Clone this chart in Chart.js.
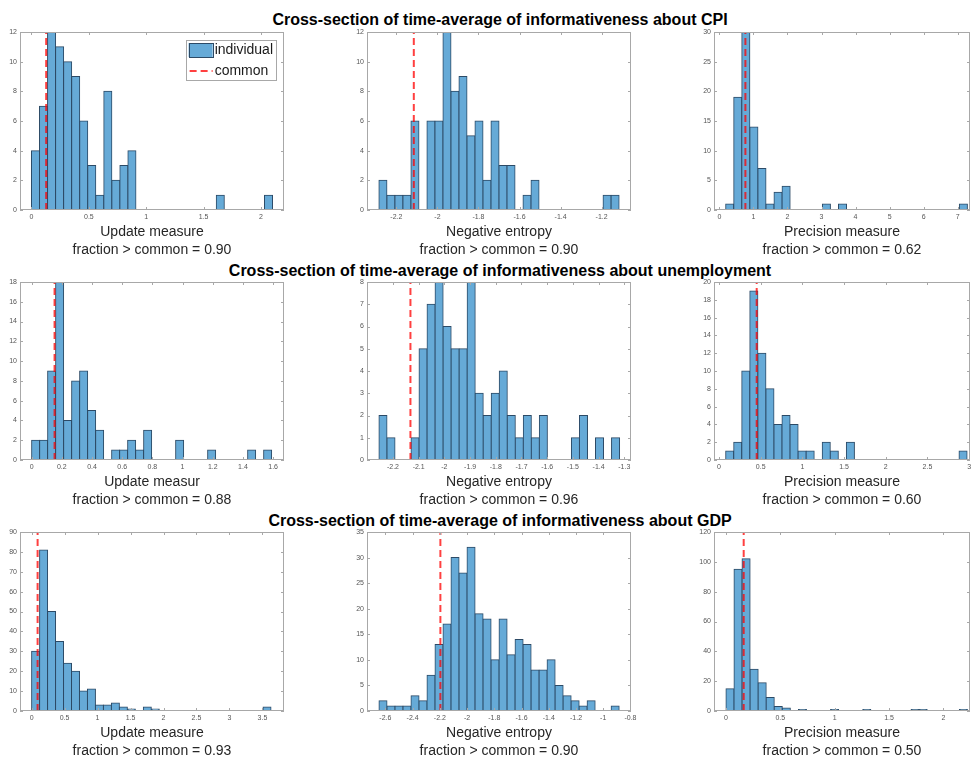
<!DOCTYPE html>
<html lang="en">
<head>
<meta charset="UTF-8">
<title>Cross-section of time-average of informativeness</title>
<script src="https://cdn.jsdelivr.net/npm/chart.js@4.4.1/dist/chart.umd.min.js"></script>
<style>
  html, body { margin: 0; padding: 0; background: #fff; width: 971px; height: 757px; overflow: hidden; }
  .panel { position: absolute; }
  .row-title { position: absolute; left: 0; width: 1000px; text-align: center; line-height: 18px;
               font: bold 16px 'Liberation Sans', Arial, sans-serif; color: #000; }
</style>
</head>
<body>
<script>
// ---- data ----
const rowTitles = [
  'Cross-section of time-average of informativeness about CPI',
  'Cross-section of time-average of informativeness about unemployment',
  'Cross-section of time-average of informativeness about GDP'
];
const measureNames = ['Update measure', 'Negative entropy', 'Precision measure',
                      'Update measur', 'Negative entropy', 'Precision measure',
                      'Update measure', 'Negative entropy', 'Precision measure'];
const fractions = ['0.90', '0.90', '0.62', '0.88', '0.96', '0.60', '0.93', '0.90', '0.50'];

// histogram counts, 30 bins each
const cpiUpdate     = [4,7,12,11,10,9,6,3,1,8,2,3,4,0,0,0,0,0,0,0,0,0,0,1,0,0,0,0,0,1];
const cpiEntropy    = [2,1,1,1,6,0,6,6,12,8,9,5,6,2,6,3,3,0,1,2,0,0,0,0,0,0,0,0,1,1];
const cpiPrecision  = [1,19,30,14,7,1,3,4,0,0,0,0,1,0,1,0,0,0,0,0,0,0,0,0,0,0,0,0,0,1];
const unUpdate      = [2,2,9,18,4,8,9,5,3,0,1,1,2,1,3,0,0,0,2,0,0,0,1,0,0,0,0,1,0,1];
const unEntropy     = [2,1,0,0,1,5,7,8,6,5,5,8,3,2,3,4,2,1,2,1,2,0,0,0,1,2,0,1,0,1];
const unPrecision   = [1,2,10,19,12,8,4,5,4,1,1,0,2,1,0,2,0,0,0,0,0,0,0,0,0,0,0,0,0,1];
const gdpUpdate     = [30,81,50,35,24,20,10,11,3,3,4,2,1,0,2,1,0,0,0,0,0,0,0,0,0,0,0,0,0,2];
const gdpEntropy    = [2,1,1,1,3,2,7,13,17,30,27,32,19,18,10,18,11,14,13,8,8,10,5,3,2,1,2,0,0,1];
const gdpPrecision  = [15,95,102,28,19,9,3,2,0,1,0,0,0,1,0,0,0,1,0,0,0,0,0,1,1,0,0,0,0,1];
const counts = [cpiUpdate, cpiEntropy, cpiPrecision, unUpdate, unEntropy, unPrecision,
                gdpUpdate, gdpEntropy, gdpPrecision];

const binStart = [0, -2.285, 0.186, 0, -2.2545, 0.08, 0, -2.647, 0];
const binWidth = [0.07, 0.039, 0.2366, 0.053, 0.0312, 0.0965, 0.121, 0.0588, 0.074];
const commonValue = [0.128, -2.115, 0.765, 0.152, -2.132, 0.452, 0.091, -2.196, 0.163];

const xRange = [[-0.1, 2.2], [-2.343, -1.057], [-0.157, 7.36],
                [-0.077, 1.672], [-2.301, -1.274], [-0.06, 3.01],
                [-0.176, 3.827], [-2.735, -0.796], [-0.11, 2.244]];
const xTicks = [
  [0, 0.5, 1, 1.5, 2],
  [-2.2, -2, -1.8, -1.6, -1.4, -1.2],
  [0, 1, 2, 3, 4, 5, 6, 7],
  [0, 0.2, 0.4, 0.6, 0.8, 1, 1.2, 1.4, 1.6],
  [-2.2, -2.1, -2, -1.9, -1.8, -1.7, -1.6, -1.5, -1.4, -1.3],
  [0, 0.5, 1, 1.5, 2, 2.5, 3],
  [0, 0.5, 1, 1.5, 2, 2.5, 3, 3.5],
  [-2.6, -2.4, -2.2, -2, -1.8, -1.6, -1.4, -1.2, -1, -0.8],
  [0, 0.5, 1, 1.5, 2]
];
const yTicks = [
  [0, 2, 4, 6, 8, 10, 12],
  [0, 2, 4, 6, 8, 10, 12],
  [0, 5, 10, 15, 20, 25, 30],
  [0, 2, 4, 6, 8, 10, 12, 14, 16, 18],
  [0, 1, 2, 3, 4, 5, 6, 7, 8],
  [0, 2, 4, 6, 8, 10, 12, 14, 16, 18, 20],
  [0, 10, 20, 30, 40, 50, 60, 70, 80, 90],
  [0, 5, 10, 15, 20, 25, 30, 35],
  [0, 20, 40, 60, 80, 100, 120]
];

// ---- layout ----
const colLeft = [20, 367, 714], colRight = [284, 631, 970];
const rowTop = [32, 282, 532], rowBottom = [210, 460, 711];
const titleCenter = [20, 271, 521];
const Y_AXIS_W = 30, X_AXIS_H = 50, PAD_TOP = 8, PAD_RIGHT = 10;
const FONT = "'Liberation Sans', Arial, Helvetica, sans-serif";
const BAR_FILL = '#66aad7', BAR_EDGE = '#2c4a66', COMMON = 'rgba(255,0,0,0.75)';

// axes box with inward tick marks
const frame = {
  id: 'frame',
  afterDatasetsDraw(chart) {
    const {ctx, chartArea: a, scales: {x, y}} = chart;
    ctx.save();
    ctx.strokeStyle = '#a8a8a8';
    ctx.lineWidth = 1;
    ctx.strokeRect(a.left + 0.5, a.top + 0.5, a.right - a.left - 1, a.bottom - a.top - 1);
    ctx.beginPath();
    x.ticks.forEach((t, i) => {
      const px = Math.round(x.getPixelForTick(i)) + 0.5;
      ctx.moveTo(px, a.bottom); ctx.lineTo(px, a.bottom - 3);
      ctx.moveTo(px, a.top); ctx.lineTo(px, a.top + 3);
    });
    y.ticks.forEach((t, i) => {
      const py = Math.round(y.getPixelForTick(i)) + 0.5;
      ctx.moveTo(a.left, py); ctx.lineTo(a.left + 3, py);
      ctx.moveTo(a.right, py); ctx.lineTo(a.right - 3, py);
    });
    ctx.stroke();
    ctx.restore();
  }
};

// MATLAB-style boxed legend in the upper right of the axes
const boxLegend = {
  id: 'boxLegend',
  afterDraw(chart) {
    const {ctx, chartArea: a} = chart;
    const ds = chart.data.datasets;
    const bar = ds.find(d => d.type === 'bar'), line = ds.find(d => d.type === 'line');
    ctx.save();
    ctx.font = '14px ' + FONT;
    const tw = Math.max(ctx.measureText(bar.label).width, ctx.measureText(line.label).width);
    const w = 3 + 24 + 2 + tw + 3, h = 40;
    const x0 = a.right - 8 - w, y0 = a.top + 8;
    ctx.fillStyle = '#fff';
    ctx.fillRect(x0, y0, w, h);
    ctx.strokeStyle = '#a8a8a8';
    ctx.lineWidth = 1;
    ctx.strokeRect(Math.round(x0) + 0.5, y0 + 0.5, Math.round(w), h);
    // bar swatch
    ctx.fillStyle = bar.backgroundColor;
    ctx.fillRect(x0 + 3, y0 + 3, 24, 14);
    ctx.strokeStyle = bar.borderColor;
    ctx.strokeRect(Math.round(x0 + 3) + 0.5, y0 + 3.5, 24, 14);
    // line swatch
    ctx.strokeStyle = line.borderColor;
    ctx.lineWidth = line.borderWidth;
    ctx.setLineDash(line.borderDash);
    ctx.beginPath();
    ctx.moveTo(x0 + 4, y0 + 31); ctx.lineTo(x0 + 27, y0 + 31);
    ctx.stroke();
    ctx.setLineDash([]);
    ctx.fillStyle = '#1a1a1a';
    ctx.textBaseline = 'middle';
    ctx.fillText(bar.label, x0 + 29, y0 + 10);
    ctx.fillText(line.label, x0 + 29, y0 + 31);
    ctx.restore();
  }
};

// row titles
rowTitles.forEach((t, r) => {
  const d = document.createElement('div');
  d.className = 'row-title';
  d.style.top = (titleCenter[r] - 9) + 'px';
  d.textContent = t;
  document.body.appendChild(d);
});

for (let p = 0; p < 9; p++) {
  const r = Math.floor(p / 3), c = p % 3;
  const plotW = colRight[c] - colLeft[c], plotH = rowBottom[r] - rowTop[r];
  const box = document.createElement('div');
  box.className = 'panel';
  box.style.left = (colLeft[c] - Y_AXIS_W) + 'px';
  box.style.top = (rowTop[r] - PAD_TOP) + 'px';
  box.style.width = (plotW + Y_AXIS_W + PAD_RIGHT) + 'px';
  box.style.height = (plotH + PAD_TOP + X_AXIS_H) + 'px';
  const canvas = document.createElement('canvas');
  box.appendChild(canvas);
  document.body.appendChild(box);

  const bars = [];
  counts[p].forEach((n, i) => {
    if (n > 0) bars.push({x: binStart[p] + (i + 0.5) * binWidth[p], y: n});
  });
  const yMax = yTicks[p][yTicks[p].length - 1];

  new Chart(canvas, {
    type: 'bar',
    data: {
      datasets: [
        {
          type: 'line', label: 'common', order: 0,
          data: [{x: commonValue[p], y: 0}, {x: commonValue[p], y: yMax}],
          borderColor: COMMON, borderWidth: 2, borderDash: [7, 4], pointRadius: 0, fill: false
        },
        {
          type: 'bar', label: 'individual', order: 1, data: bars,
          backgroundColor: BAR_FILL, borderColor: BAR_EDGE, borderWidth: 1,
          borderSkipped: false, inflateAmount: 0.5,
          barPercentage: 1, categoryPercentage: 1
        }
      ]
    },
    options: {
      responsive: true,
      maintainAspectRatio: false,
      animation: false,
      layout: { padding: { top: PAD_TOP, right: PAD_RIGHT, left: 0, bottom: 0 } },
      plugins: { legend: { display: false }, tooltip: { enabled: false } },
      scales: {
        x: {
          type: 'linear', min: xRange[p][0], max: xRange[p][1], offset: false,
          grid: { display: false, drawTicks: false }, border: { display: false },
          afterBuildTicks: s => { s.ticks = xTicks[p].map(v => ({value: v})); },
          afterFit: s => { s.height = X_AXIS_H; s.paddingLeft = 0; s.paddingRight = 0; },
          ticks: { font: { size: 7, family: FONT }, color: '#555', padding: 3,
                   maxRotation: 0, autoSkip: false, callback: v => String(v) },
          title: { display: true, text: [measureNames[p], 'fraction > common = ' + fractions[p]],
                   font: { size: 14, family: FONT, lineHeight: 18 / 14 }, color: '#262626',
                   padding: { top: 0, bottom: 1 } }
        },
        y: {
          min: 0, max: yMax,
          grid: { display: false, drawTicks: false }, border: { display: false },
          afterBuildTicks: s => { s.ticks = yTicks[p].map(v => ({value: v})); },
          afterFit: s => { s.width = Y_AXIS_W; s.paddingTop = 0; s.paddingBottom = 0; },
          ticks: { font: { size: 7, family: FONT }, color: '#555', padding: 3,
                   autoSkip: false, callback: v => String(v) }
        }
      }
    },
    plugins: p === 0 ? [frame, boxLegend] : [frame]
  });
}
</script>
</body>
</html>
